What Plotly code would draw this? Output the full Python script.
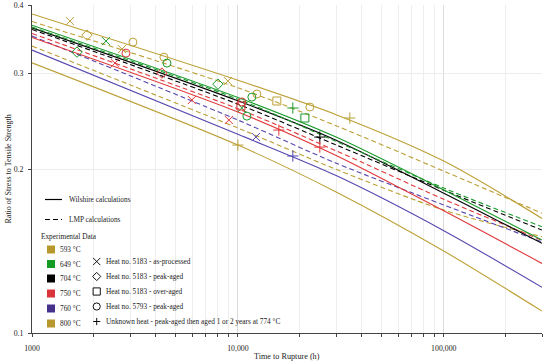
import plotly.graph_objects as go

# ---------------- data ----------------
x_line = [1000, 10000, 30000, 100000, 300000]

w593 = [0.385, 0.291, 0.2516, 0.2068, 0.1623]
l593 = [0.373, 0.2819, 0.2401, 0.1982, 0.1659]
w649 = [0.3673, 0.2706, 0.2289, 0.1831, 0.1481]
l649 = [0.3643, 0.2687, 0.2248, 0.1845, 0.1567]
w704 = [0.3632, 0.2668, 0.2258, 0.1806, 0.1461]
l704 = [0.3608, 0.2631, 0.2214, 0.1829, 0.1545]
w750 = [0.3488, 0.2545, 0.2118, 0.1676, 0.1342]
l750 = [0.3546, 0.2580, 0.2160, 0.1760, 0.1480]
w760 = [0.3306, 0.2316, 0.1945, 0.1541, 0.1213]
l760 = [0.3508, 0.2460, 0.2050, 0.1718, 0.1469]
w800 = [0.3133, 0.2213, 0.1815, 0.1414, 0.1097]
l800 = [0.3363, 0.2378, 0.1997, 0.1681, 0.1502]

# experimental points
g593_asproc_x = [1529, 2735, 8940];            g593_asproc_y = [0.3737, 0.3320, 0.2901]
g593_peak_x = [1849];                          g593_peak_y = [0.3522]
g593_over_x = [15460];                         g593_over_y = [0.2666]
g593_h5793_x = [3092, 4372, 12370, 22370];     g593_h5793_y = [0.3419, 0.3209, 0.2746, 0.2599]
g593_unk_x = [34970];                          g593_unk_y = [0.2481]

g649_asproc_x = [2287, 10450];                 g649_asproc_y = [0.3434, 0.2588]
g649_peak_x = [1654, 7997];                    g649_peak_y = [0.3278, 0.2863]
g649_over_x = [21150];                         g649_over_y = [0.2481]
g649_h5793_x = [4523, 11690, 11060];           g649_h5793_y = [0.3129, 0.2710, 0.2501]
g649_unk_x = [18490];                          g649_unk_y = [0.2588]

g704_unk_x = [25000];                          g704_unk_y = [0.2289]

g750_asproc_x = [2528, 5978, 9040];            g750_asproc_y = [0.3129, 0.2677, 0.2460]
g750_peak_x = [4276];                          g750_peak_y = [0.3000]
g750_over_x = [10340];                         g750_over_y = [0.2610]
g750_h5793_x = [2860, 10450];                  g750_h5793_y = [0.3264, 0.2655]
g750_unk_x = [15810, 25000];                   g750_unk_y = [0.2358, 0.2194]

g760_asproc_x = [12230];                       g760_asproc_y = [0.2289]
g760_unk_x = [18490];                          g760_unk_y = [0.2113]

g800_unk_x = [10000];                          g800_unk_y = [0.2213]

temp_labels = ["593 °C", "649 °C", "704 °C", "750 °C", "760 °C", "800 °C"]
heat_labels = ["Heat no. 5183 - as-processed", "Heat no. 5183 - peak-aged",
               "Heat no. 5183 - over-aged", "Heat no. 5793 - peak-aged",
               "Unknown heat - peak-aged then aged 1 or 2 years at 774 °C"]
x_tickvals = [1000, 10000, 100000]
x_ticktext = ["1000", "10,000", "100,000"]
y_tickvals = [0.1, 0.2, 0.3, 0.4]
y_ticktext = ["0.1", "0.2", "0.3", "0.4"]

# ---------------- style ----------------
GOLD = "#BCA036"
GREEN = "#1A9A2C"
BLACK = "#000000"
RED = "#E0373A"
PURPLE = "#5646AE"
SQ_COLORS = ["#B8982C", "#159A22", "#000000", "#D8343A", "#45308C", "#B8982C"]
FONT = "Liberation Serif"

fig = go.Figure()

def add_line(y, color, dash):
    fig.add_trace(go.Scatter(x=x_line, y=y, mode="lines",
                             line=dict(color=color, width=1.1, dash=dash, shape="spline", smoothing=0.8),
                             showlegend=False, hoverinfo="skip"))

for (w, l, c) in [(w800, l800, GOLD), (w760, l760, PURPLE), (w750, l750, RED),
                  (w704, l704, BLACK), (w649, l649, GREEN), (w593, l593, GOLD)]:
    add_line(l, c, "5px,3px")
    add_line(w, c, "solid")

SYM = {"asproc": "x-thin-open", "peak": "diamond-open", "over": "square-open",
       "h5793": "circle-open", "unk": "cross-thin-open"}
SIZE = {"asproc": 8, "peak": 8, "over": 8, "h5793": 8, "unk": 8}

def add_pts(x, y, color, kind):
    fig.add_trace(go.Scatter(x=x, y=y, mode="markers",
                             marker=dict(symbol=SYM[kind], size=SIZE[kind], color=color,
                                         line=dict(color=color, width=1)),
                             showlegend=False, hoverinfo="skip"))

add_pts(g593_asproc_x, g593_asproc_y, GOLD, "asproc")
add_pts(g593_peak_x, g593_peak_y, GOLD, "peak")
add_pts(g593_over_x, g593_over_y, GOLD, "over")
add_pts(g593_h5793_x, g593_h5793_y, GOLD, "h5793")
add_pts(g593_unk_x, g593_unk_y, GOLD, "unk")
add_pts(g649_asproc_x, g649_asproc_y, GREEN, "asproc")
add_pts(g649_peak_x, g649_peak_y, GREEN, "peak")
add_pts(g649_over_x, g649_over_y, GREEN, "over")
add_pts(g649_h5793_x, g649_h5793_y, GREEN, "h5793")
add_pts(g649_unk_x, g649_unk_y, GREEN, "unk")
add_pts(g704_unk_x, g704_unk_y, BLACK, "unk")
add_pts(g750_asproc_x, g750_asproc_y, RED, "asproc")
add_pts(g750_peak_x, g750_peak_y, RED, "peak")
add_pts(g750_over_x, g750_over_y, RED, "over")
add_pts(g750_h5793_x, g750_h5793_y, RED, "h5793")
add_pts(g750_unk_x, g750_unk_y, RED, "unk")
add_pts(g760_asproc_x, g760_asproc_y, PURPLE, "asproc")
add_pts(g760_unk_x, g760_unk_y, PURPLE, "unk")
add_pts(g800_unk_x, g800_unk_y, GOLD, "unk")

# ---------------- legend (drawn in paper coordinates) ----------------
L, R, T, B = 32, 542, 5, 333
def px(x):
    return (x - L) / (R - L)
def py(y):
    return (B - y) / (B - T)

shapes = []
annotations = []
def text(x, y, s, size=7.3, anchor="left"):
    annotations.append(dict(x=px(x), y=py(y), xref="paper", yref="paper", text=s,
                            showarrow=False, xanchor=anchor, yanchor="middle",
                            font=dict(family=FONT, size=size, color="#222")))

shapes.append(dict(type="line", xref="paper", yref="paper", x0=px(45), x1=px(62),
                   y0=py(199.5), y1=py(199.5), line=dict(color="black", width=1.2)))
shapes.append(dict(type="line", xref="paper", yref="paper", x0=px(45), x1=px(62),
                   y0=py(219.5), y1=py(219.5), line=dict(color="black", width=1.2, dash="5px,3px")))
text(67, 199.5, "Wilshire calculations")
text(67, 219.5, "LMP calculations")
text(39, 236, "Experimental Data")

sq_y = [249.5, 264, 278.5, 293.5, 308.5, 323.5]
for yy, col, lab in zip(sq_y, SQ_COLORS, temp_labels):
    shapes.append(dict(type="rect", xref="paper", yref="paper", x0=px(47), x1=px(55),
                       y0=py(yy - 4), y1=py(yy + 4), fillcolor=col, line=dict(width=0)))
    text(57.5, yy, lab)

mk_y = [261.5, 276.5, 291.5, 306.5, 321.5]
mx = 96.7
r = 3.6
lc = dict(color="#111", width=1)
# X
y0 = mk_y[0]
shapes.append(dict(type="path", xref="paper", yref="paper", line=lc,
                   path=f"M {px(mx-r)},{py(y0-r)} L {px(mx+r)},{py(y0+r)} M {px(mx-r)},{py(y0+r)} L {px(mx+r)},{py(y0-r)}"))
# diamond
y0 = mk_y[1]
shapes.append(dict(type="path", xref="paper", yref="paper", line=lc,
                   path=f"M {px(mx-r-0.5)},{py(y0)} L {px(mx)},{py(y0-r-0.5)} L {px(mx+r+0.5)},{py(y0)} L {px(mx)},{py(y0+r+0.5)} Z"))
# square
y0 = mk_y[2]
shapes.append(dict(type="rect", xref="paper", yref="paper", line=lc,
                   x0=px(mx-r), x1=px(mx+r), y0=py(y0-r), y1=py(y0+r)))
# circle
y0 = mk_y[3]
shapes.append(dict(type="circle", xref="paper", yref="paper", line=lc,
                   x0=px(mx-r), x1=px(mx+r), y0=py(y0-r), y1=py(y0+r)))
# plus
y0 = mk_y[4]
shapes.append(dict(type="path", xref="paper", yref="paper", line=lc,
                   path=f"M {px(mx-r)},{py(y0)} L {px(mx+r)},{py(y0)} M {px(mx)},{py(y0-r)} L {px(mx)},{py(y0+r)}"))
for yy, lab in zip(mk_y, heat_labels):
    text(103.5, yy, lab)

# axis titles
text((L + R) / 2, 356.5, "Time to Rupture (h)", size=8.2, anchor="center")
annotations.append(dict(x=px(7.5), y=py(169), xref="paper", yref="paper",
                        text="Ratio of Stress to Tensile Strength", textangle=-90,
                        showarrow=False, xanchor="center", yanchor="middle",
                        font=dict(family=FONT, size=8, color="#222")))

minor_x = [v * m for m in (1000, 10000, 100000) for v in range(2, 10) if v * m <= 300000]

fig.update_layout(
    width=550, height=364,
    margin=dict(l=L, r=550 - R, t=T, b=364 - B),
    paper_bgcolor="white", plot_bgcolor="white",
    font=dict(family=FONT, size=8, color="#222"),
    shapes=shapes, annotations=annotations,
    xaxis=dict(type="log", range=[3, 5.4771], tickvals=x_tickvals, ticktext=x_ticktext,
               automargin=False,
               showline=True, linecolor="#444", linewidth=1, mirror=False,
               ticks="outside", ticklen=3, tickcolor="#444", ticklabelstandoff=5,
               showgrid=True, gridcolor="#dcdcdc", gridwidth=1, zeroline=False,
               tickfont=dict(family=FONT, size=7.8, color="#222"),
               minor=dict(tickvals=minor_x, ticks="outside", ticklen=3, tickcolor="#444",
                          showgrid=True, gridcolor="#eeeeee", gridwidth=1)),
    yaxis=dict(type="log", range=[-1, -0.39794], tickvals=y_tickvals, ticktext=y_ticktext,
               automargin=False,
               showline=True, linecolor="#444", linewidth=1,
               ticks="outside", ticklen=3, tickcolor="#444", ticklabelstandoff=3,
               showgrid=True, gridcolor="#ececec", gridwidth=1, zeroline=False,
               tickfont=dict(family=FONT, size=7.8, color="#222")),
)

fig.write_html("out.html", config={"displayModeBar": False},
               post_script="document.body.style.margin='0px';document.body.style.padding='0px';")
